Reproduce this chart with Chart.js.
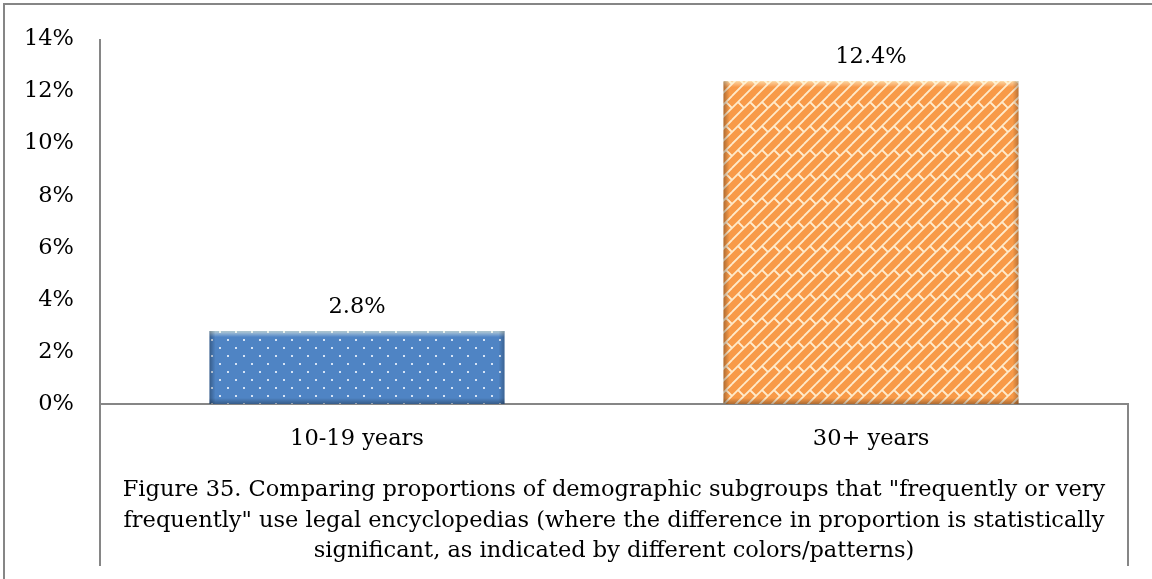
<!DOCTYPE html>
<html>
<head>
<meta charset="utf-8">
<script src="https://cdn.jsdelivr.net/npm/chart.js@4.4.1/dist/chart.umd.min.js"></script>
<style>
  html, body { margin: 0; padding: 0; background: #fff; }
  #wrap { width: 1152px; height: 579px; }
</style>
</head>
<body>
<div id="wrap"><canvas id="chart" width="1152" height="579"></canvas></div>
<script>
// values
var categories = ['10-19 years', '30+ years'];
var shares = [2.8, 12.4];
var barColors = ['#4f84c4', '#f89a48'];
var yMin = 0, yMax = 14, yStep = 2;
var captionLines = [
  'Figure 35. Comparing proportions of demographic subgroups that "frequently or very',
  'frequently" use legal encyclopedias (where the difference in proportion is statistically',
  'significant, as indicated by different colors/patterns)'
];

var FONT = 'DejaVu Serif';
var FONT_SIZE = 22.5;
var AXIS_GREY = '#868686';

// dotted fill (first group)
function dotPattern(base) {
  var c = document.createElement('canvas');
  c.width = 16; c.height = 16;
  var g = c.getContext('2d');
  g.fillStyle = base;
  g.fillRect(0, 0, 16, 16);
  g.fillStyle = 'rgba(220,232,248,0.95)';
  g.fillRect(3, 3, 2, 2);
  g.fillRect(11, 11, 2, 2);
  return g.createPattern(c, 'repeat');
}

// diagonal brick fill (second group)
function brickPattern(base) {
  var s = 24, h = s / 2;
  var c = document.createElement('canvas');
  c.width = s; c.height = s;
  var g = c.getContext('2d');
  g.fillStyle = base;
  g.fillRect(0, 0, s, s);
  g.strokeStyle = 'rgba(255,238,210,0.95)';
  g.lineWidth = 1.8;
  for (var dx = -s; dx <= s; dx += s) {
    for (var dy = -s; dy <= s; dy += s) {
      g.beginPath();
      // "/" mortar lines
      g.moveTo(dx + 0, dy + h); g.lineTo(dx + h, dy + 0);
      g.moveTo(dx + 0, dy + s); g.lineTo(dx + s, dy + 0);
      g.moveTo(dx + h, dy + s); g.lineTo(dx + s, dy + h);
      // short cross cuts, alternating between bands
      g.moveTo(dx + h / 2, dy + h / 2); g.lineTo(dx + h, dy + h);
      g.moveTo(dx + s - h / 2, dy + h / 2); g.lineTo(dx + s, dy + h);
      g.stroke();
    }
  }
  return g.createPattern(c, 'repeat');
}

var fills = [dotPattern(barColors[0]), brickPattern(barColors[1])];

var frame = {
  id: 'frame',
  beforeDraw: function(chart) {
    var ctx = chart.ctx;
    ctx.save();
    ctx.strokeStyle = AXIS_GREY;
    ctx.lineWidth = 2;
    ctx.strokeRect(4, 4, chart.width, chart.height);
    ctx.restore();
  },
  afterDraw: function(chart) {
    // category boundary lines running down through the label area
    var a = chart.chartArea, ctx = chart.ctx;
    ctx.save();
    ctx.strokeStyle = AXIS_GREY;
    ctx.lineWidth = 2;
    ctx.beginPath();
    ctx.moveTo(a.left, a.bottom); ctx.lineTo(a.left, 566);
    ctx.moveTo(a.right, a.bottom); ctx.lineTo(a.right, 566);
    ctx.stroke();
    ctx.restore();
  }
};

var bevel = {
  id: 'bevel',
  afterDatasetsDraw: function(chart) {
    var ctx = chart.ctx;
    var meta = chart.getDatasetMeta(0);
    ctx.save();
    meta.data.forEach(function(bar) {
      var p = bar.getProps(['x', 'y', 'base', 'width'], true);
      var l = p.x - p.width / 2, r = p.x + p.width / 2, t = p.y, b = p.base;
      var e = 6, gr;
      gr = ctx.createLinearGradient(0, t, 0, t + e);
      gr.addColorStop(0, 'rgba(255,255,215,0.6)');
      gr.addColorStop(1, 'rgba(255,255,255,0)');
      ctx.fillStyle = gr; ctx.fillRect(l, t, r - l, e);
      gr = ctx.createLinearGradient(0, b, 0, b - e);
      gr.addColorStop(0, 'rgba(0,0,0,0.3)');
      gr.addColorStop(1, 'rgba(0,0,0,0)');
      ctx.fillStyle = gr; ctx.fillRect(l, b - e, r - l, e);
      gr = ctx.createLinearGradient(l, 0, l + e, 0);
      gr.addColorStop(0, 'rgba(0,0,0,0.3)');
      gr.addColorStop(1, 'rgba(0,0,0,0)');
      ctx.fillStyle = gr; ctx.fillRect(l, t, e, b - t);
      gr = ctx.createLinearGradient(r, 0, r - e, 0);
      gr.addColorStop(0, 'rgba(0,0,0,0.25)');
      gr.addColorStop(1, 'rgba(0,0,0,0)');
      ctx.fillStyle = gr; ctx.fillRect(r - e, t, e, b - t);
    });
    ctx.restore();
  }
};

var valueLabels = {
  id: 'valueLabels',
  afterDatasetsDraw: function(chart) {
    var ctx = chart.ctx;
    var meta = chart.getDatasetMeta(0);
    ctx.save();
    ctx.font = FONT_SIZE + 'px "' + FONT + '"';
    ctx.fillStyle = '#000';
    ctx.textAlign = 'center';
    ctx.textBaseline = 'alphabetic';
    meta.data.forEach(function(bar, i) {
      ctx.fillText(shares[i].toFixed(1) + '%', bar.x, bar.y - 18);
    });
    ctx.restore();
  }
};

new Chart(document.getElementById('chart'), {
  type: 'bar',
  data: {
    labels: categories,
    datasets: [{
      data: shares,
      backgroundColor: fills,
      borderWidth: 0,
      barPercentage: 0.574,
      categoryPercentage: 1
    }]
  },
  options: {
    responsive: false,
    animation: false,
    events: [],
    layout: { padding: { top: 33, right: 24, left: 0, bottom: 0 } },
    plugins: { legend: { display: false }, tooltip: { enabled: false } },
    scales: {
      x: {
        grid: { display: false, drawTicks: false },
        border: { display: true, color: AXIS_GREY, width: 2 },
        ticks: { color: '#000', padding: 22, font: { family: FONT, size: FONT_SIZE } },
        title: {
          display: true,
          text: captionLines,
          color: '#000',
          font: { family: FONT, size: FONT_SIZE, lineHeight: 1.37 },
          padding: { top: 0, bottom: 12 }
        },
        afterFit: function(scale) { scale.height = 175; }
      },
      y: {
        min: yMin,
        max: yMax,
        grid: { display: false, drawTicks: false },
        border: { display: true, color: AXIS_GREY, width: 2 },
        ticks: {
          stepSize: yStep,
          color: '#000',
          padding: 26,
          font: { family: FONT, size: FONT_SIZE },
          callback: function(v) { return v + '%'; }
        },
        afterFit: function(scale) { scale.width = 100; }
      }
    }
  },
  plugins: [frame, bevel, valueLabels]
});
</script>
</body>
</html>
